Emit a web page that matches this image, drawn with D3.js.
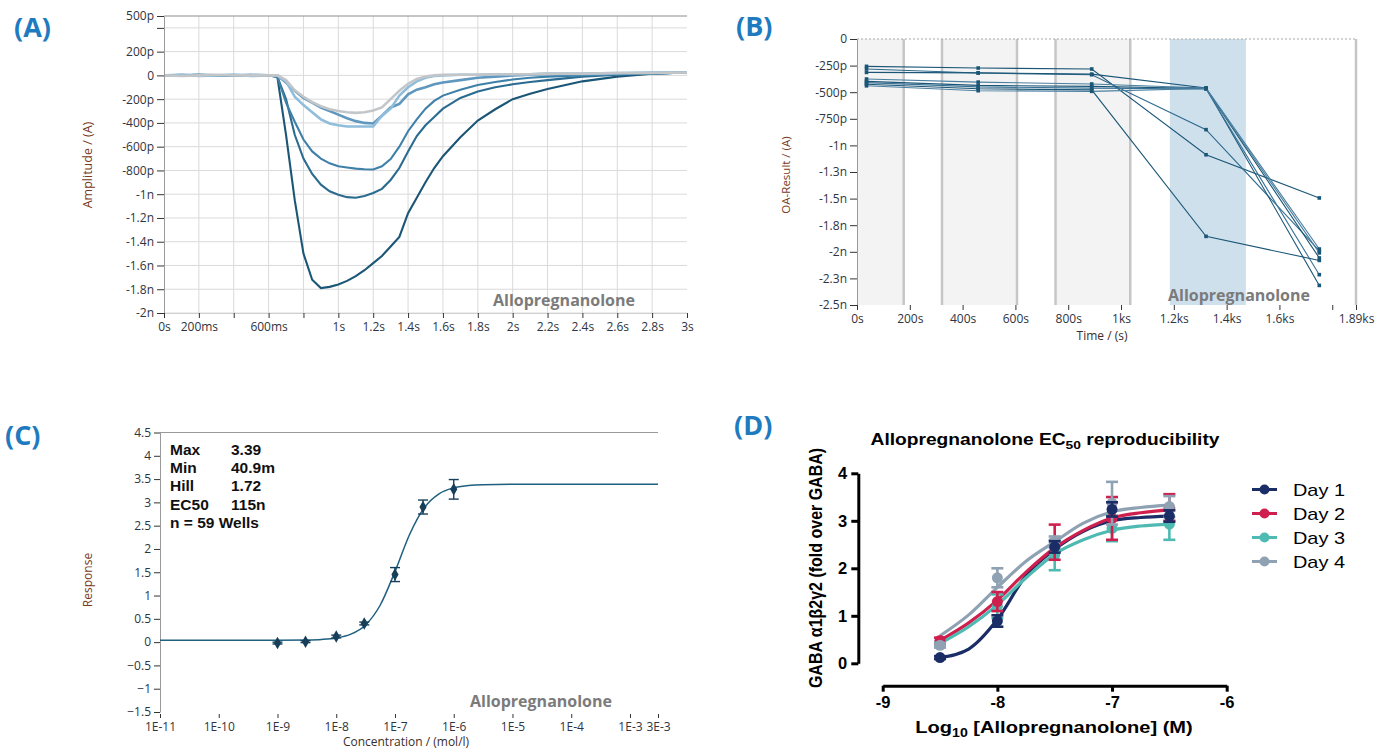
<!DOCTYPE html>
<html>
<head>
<meta charset="utf-8">
<script src="https://cdn.jsdelivr.net/npm/d3@7"></script>
<style>
body { margin: 0; background: #fff; }
svg { display: block; }
</style>
</head>
<body>
<svg id="fig" width="1385" height="750"></svg>
<script>

// ---------- (A) current traces ----------
var tA = [0, 0.1, 0.2, 0.3, 0.4, 0.5, 0.6, 0.65, 0.7, 0.75, 0.8, 0.85, 0.9, 0.95, 1.0, 1.05, 1.1, 1.15, 1.2, 1.25, 1.3, 1.35, 1.4, 1.45, 1.5, 1.55, 1.6, 1.7, 1.8, 1.9, 2.0, 2.1, 2.2, 2.4, 2.6, 2.8, 3.0];
var traceGray  = [0, -5, 0, 5, 0, 0, 0, 0, -40, -125, -180, -225, -260, -285, -300, -310, -315, -310, -295, -270, -200, -130, -70, -30, -10, 0, 5, 5, 5, 10, 10, 10, 15, 15, 20, 20, 25];
var traceLight = [0, 5, -5, 0, 5, -5, 0, 0, -50, -180, -250, -310, -370, -405, -420, -430, -430, -430, -430, -340, -280, -170, -100, -50, -20, -5, 0, 5, 5, 10, 10, 10, 15, 15, 20, 25, 25];
var traceMid2  = [0, 0, 5, 0, 0, 5, 0, 0, -60, -130, -190, -230, -270, -300, -330, -360, -385, -400, -405, -340, -270, -240, -160, -120, -100, -75, -60, -40, -20, -10, 0, 5, 10, 10, 15, 20, 25];
var traceMid1  = [0, 0, -5, 0, 5, 0, 0, -10, -230, -390, -540, -640, -700, -740, -765, -775, -785, -790, -792, -765, -705, -600, -470, -370, -280, -215, -170, -120, -80, -55, -35, -20, -10, 0, 10, 15, 25];
var traceDark2 = [0, 5, 0, -5, 0, 0, 0, -10, -200, -500, -700, -830, -920, -975, -1005, -1025, -1030, -1015, -990, -955, -880, -780, -640, -510, -420, -350, -280, -190, -135, -100, -75, -55, -40, -10, 5, 15, 25];
var traceDark1 = [0, 0, 5, 0, -5, 0, 0, -10, -500, -1050, -1500, -1720, -1790, -1780, -1760, -1730, -1690, -1640, -1580, -1520, -1440, -1360, -1160, -1030, -900, -780, -680, -520, -380, -285, -200, -155, -115, -50, -10, 15, 25];
var tracesA = [traceDark1, traceDark2, traceMid1, traceMid2, traceLight, traceGray];
var colorsA = ["#1b5676", "#2b6b90", "#3f80a8", "#5f97be", "#8fbddb", "#c3c6c9"];
var yTicksA = [500, 400, 200, 0, -200, -400, -600, -800, -1000, -1200, -1400, -1600, -1800, -2000];
var yLabelsA = ["500p", "", "200p", "0", "-200p", "-400p", "-600p", "-800p", "-1n", "-1.2n", "-1.4n", "-1.6n", "-1.8n", "-2n"];
var xTicksA = [0, 0.2, 0.4, 0.6, 0.8, 1.0, 1.2, 1.4, 1.6, 1.8, 2.0, 2.2, 2.4, 2.6, 2.8, 3.0];
var xLabelsA = ["0s", "200ms", "", "600ms", "", "1s", "1.2s", "1.4s", "1.6s", "1.8s", "2s", "2.2s", "2.4s", "2.6s", "2.8s", "3s"];

// ---------- (B) OA-result per well ----------
var tB = [36, 459, 889, 1322, 1751];
var well1 = [-257, -273, -282, -1088, -1494];
var well2 = [-282, -320, -336, -852, -1990];
var well3 = [-314, -318, -330, -461, -2316];
var well4 = [-376, -405, -423, -461, -1974];
var well5 = [-398, -436, -445, -465, -2058];
var well6 = [-410, -450, -462, -470, -2215];
var well7 = [-425, -467, -478, -1855, -2081];
var well8 = [-440, -486, -492, -465, -2010];
var wellsB = [well1, well2, well3, well4, well5, well6, well7, well8];
var colorsB = ["#1b5676", "#2d6a8e", "#1b5676", "#4a7fa0", "#1b5676", "#3a7398", "#1b5676", "#4a7fa0"];
var grayBandsB = [[0, 177], [322, 606], [752, 1035]];
var blueBandB = [1185, 1473];
var sepLinesB = [177, 322, 606, 752, 1035, 1890];
var yTicksB = [0, -250, -500, -750, -1000, -1250, -1500, -1750, -2000, -2250, -2500];
var yLabelsB = ["0", "-250p", "-500p", "-750p", "-1n", "-1.3n", "-1.5n", "-1.8n", "-2n", "-2.3n", "-2.5n"];
var xTicksB = [0, 200, 400, 600, 800, 1000, 1200, 1400, 1600, 1800, 1890];
var xLabelsB = ["0s", "200s", "400s", "600s", "800s", "1ks", "1.2ks", "1.4ks", "1.6ks", "", "1.89ks"];

// ---------- (C) concentration response ----------
var concC = [1e-9, 3e-9, 1e-8, 3e-8, 1e-7, 3e-7, 1e-6];
var respC = [-0.02, 0.01, 0.12, 0.4, 1.45, 2.9, 3.28];
var errC = [0.02, 0.02, 0.03, 0.03, 0.15, 0.15, 0.21];
var fitConcC = [1e-11, 1e-9, 3.16e-9, 5.62e-9, 1e-8, 1.78e-8, 3.16e-8, 5.62e-8, 1e-7, 1.78e-7, 3.16e-7, 5.62e-7, 1e-6, 1.78e-6, 3.16e-6, 1e-5, 3e-3];
var fitRespC = [0.041, 0.042, 0.048, 0.059, 0.09, 0.171, 0.369, 0.797, 1.514, 2.315, 2.888, 3.185, 3.311, 3.36, 3.379, 3.388, 3.39];
var statLabels = ["Max", "Min", "Hill", "EC50"];
var statValues = ["3.39", "40.9m", "1.72", "115n"];
var wellsNote = "n = 59 Wells";
var yTicksC = [4.5, 4, 3.5, 3, 2.5, 2, 1.5, 1, 0.5, 0, -0.5, -1, -1.5];
var xTicksC = [1e-11, 1e-10, 1e-9, 1e-8, 1e-7, 1e-6, 1e-5, 1e-4, 1e-3, 3e-3];
var xLabelsC = ["1E-11", "1E-10", "1E-9", "1E-8", "1E-7", "1E-6", "1E-5", "1E-4", "1E-3", "3E-3"];

// ---------- (D) EC50 reproducibility ----------
var logConcD = [-8.5, -8, -7.5, -7, -6.5];
var day1 = [0.12, 0.89, 2.45, 3.24, 3.1];
var day1Err = [0.03, 0.12, 0.12, 0.15, 0.12];
var day2 = [0.48, 1.3, 2.55, 3.05, 3.28];
var day2Err = [0.06, 0.2, 0.37, 0.45, 0.28];
var day3 = [0.4, 1.2, 2.28, 2.84, 2.93];
var day3Err = [0.05, 0.25, 0.32, 0.27, 0.33];
var day4 = [0.38, 1.8, 2.55, 3.37, 3.3];
var day4Err = [0.05, 0.2, 0.12, 0.45, 0.22];
var fitLogD = [-8.5, -8.25, -8, -7.75, -7.5, -7.25, -7, -6.75, -6.5];
var fit1 = [0.12, 0.3, 0.92, 1.85, 2.4, 2.78, 3.0, 3.07, 3.1];
var fit2 = [0.48, 0.85, 1.33, 1.92, 2.43, 2.8, 3.06, 3.17, 3.23];
var fit3 = [0.42, 0.77, 1.23, 1.8, 2.3, 2.6, 2.8, 2.89, 2.93];
var fit4 = [0.58, 1.02, 1.6, 2.15, 2.56, 2.95, 3.19, 3.28, 3.33];
var dayNames = ["Day 1", "Day 2", "Day 3", "Day 4"];
var dayColors = ["#1b2d66", "#cf1f4e", "#4fbab1", "#8fa2b4"];

var svg = d3.select("#fig");
var font = '"Open Sans", sans-serif';
var arial = '"Liberation Sans", Arial, sans-serif';
var tickCol = "#2f3440";
var titleCol = "#7a3a22";
var panelCol = "#1f7bbf";

function styleAxis(g) {
	g.selectAll("text").style("font-family", font).style("font-size", "12px").style("fill", tickCol);
	g.selectAll(".tick line").style("stroke", "#333");
	g.select(".domain").style("stroke", "#9a9a9a");
}

function panelLabel(txt, x, y) {
	svg.append("text").attr("x", x).attr("y", y).text(txt)
		.style("font-family", font).style("font-weight", "bold")
		.style("font-size", "27px").style("fill", panelCol);
}

function drugLabel(g, x, y) {
	g.append("text").attr("x", x).attr("y", y).attr("text-anchor", "middle").text("Allopregnanolone")
		.style("font-family", font).style("font-weight", "bold")
		.style("font-size", "16px").style("fill", "#7b7b7b");
}

// ================= panel A =================
var xA = d3.scaleLinear().domain([0, 3]).range([164, 687]);
var yA = d3.scaleLinear().domain([-2000, 500]).range([313, 16]);
var gA = svg.append("g");

gA.selectAll(".hgrid").data(yTicksA.slice(1)).enter().append("line")
	.attr("x1", 164).attr("x2", 687)
	.attr("y1", function(d) { return yA(d); }).attr("y2", function(d) { return yA(d); })
	.style("stroke", "#dadada");
gA.selectAll(".vgrid").data(xTicksA.slice(1, -1)).enter().append("line")
	.attr("x1", function(d) { return xA(d); }).attr("x2", function(d) { return xA(d); })
	.attr("y1", yA(500)).attr("y2", yA(-2000))
	.style("stroke", "#dadada");
gA.append("line").attr("x1", 164).attr("x2", 687).attr("y1", yA(500)).attr("y2", yA(500))
	.style("stroke", "#8c8c8c");

var lineA = d3.line()
	.x(function(d, i) { return xA(tA[i]); })
	.y(function(d) { return yA(d); });

tracesA.forEach(function(tr, k) {
	gA.append("path").attr("d", lineA(tr))
		.style("fill", "none").style("stroke", colorsA[k])
		.style("stroke-width", k > 2 ? 2.6 : 2.1);
});

var axAy = gA.append("g").attr("transform", "translate(164,0)")
	.call(d3.axisLeft(yA).tickValues(yTicksA).tickFormat(function(d, i) { return yLabelsA[i]; })
		.tickSize(7).tickSizeOuter(0).tickPadding(3));
styleAxis(axAy);
var axAx = gA.append("g").attr("transform", "translate(0,313)")
	.call(d3.axisBottom(xA).tickValues(xTicksA).tickFormat(function(d, i) { return xLabelsA[i]; })
		.tickSize(5).tickSizeOuter(0).tickPadding(4));
styleAxis(axAx);
axAx.select(".domain").style("stroke", "#d0d0d0");

gA.append("text").attr("transform", "translate(92,165) rotate(-90)").attr("text-anchor", "middle")
	.text("Amplitude / (A)").style("font-family", font).style("font-size", "12.5px").style("fill", titleCol);
drugLabel(gA, 564, 306);
panelLabel("(A)", 14, 37);

// ================= panel B =================
var xB = d3.scaleLinear().domain([0, 1890]).range([857, 1356]);
var yB = d3.scaleLinear().domain([-2500, 0]).range([305, 39]);
var gB = svg.append("g");

gB.selectAll(".band").data(grayBandsB).enter().append("rect")
	.attr("x", function(d) { return xB(d[0]); }).attr("width", function(d) { return xB(d[1]) - xB(d[0]); })
	.attr("y", yB(0)).attr("height", yB(-2500) - yB(0))
	.style("fill", "#f3f3f3");
gB.append("rect").attr("x", xB(blueBandB[0])).attr("width", xB(blueBandB[1]) - xB(blueBandB[0]))
	.attr("y", yB(0)).attr("height", yB(-2500) - yB(0)).style("fill", "#cfe0ed");
gB.selectAll(".sep").data(sepLinesB).enter().append("line")
	.attr("x1", function(d) { return xB(d); }).attr("x2", function(d) { return xB(d); })
	.attr("y1", yB(0)).attr("y2", yB(-2500))
	.style("stroke", "#c6c6c6").style("stroke-width", 2.5);
gB.append("line").attr("x1", xB(0)).attr("x2", xB(1890)).attr("y1", yB(0)).attr("y2", yB(0))
	.style("stroke", "#a8a8a8").style("stroke-dasharray", "2,2");

drugLabel(gB, 1239, 301);

var lineB = d3.line()
	.x(function(d, i) { return xB(tB[i]); })
	.y(function(d) { return yB(d); });
wellsB.forEach(function(w, k) {
	gB.append("path").attr("d", lineB(w))
		.style("fill", "none").style("stroke", colorsB[k]).style("stroke-width", 1.1);
	gB.selectAll(".pt" + k).data(w).enter().append("rect")
		.attr("x", function(d, i) { return xB(tB[i]) - 1.8; })
		.attr("y", function(d) { return yB(d) - 1.8; })
		.attr("width", 3.6).attr("height", 3.6)
		.style("fill", "#1b5676");
});

var axBy = gB.append("g").attr("transform", "translate(857,0)")
	.call(d3.axisLeft(yB).tickValues(yTicksB).tickFormat(function(d, i) { return yLabelsB[i]; })
		.tickSize(7).tickSizeOuter(0).tickPadding(3));
styleAxis(axBy);
var axBx = gB.append("g").attr("transform", "translate(0,305)")
	.call(d3.axisBottom(xB).tickValues(xTicksB).tickFormat(function(d, i) { return xLabelsB[i]; })
		.tickSize(5).tickSizeOuter(0).tickPadding(4));
styleAxis(axBx);
axBx.select(".domain").remove();

gB.append("text").attr("transform", "translate(790,175) rotate(-90)").attr("text-anchor", "middle")
	.text("OA-Result / (A)").style("font-family", font).style("font-size", "11.5px").style("fill", titleCol);
gB.append("text").attr("x", 1102).attr("y", 340).attr("text-anchor", "middle")
	.text("Time / (s)").style("font-family", font).style("font-size", "12px").style("fill", "#3a2e2a");
panelLabel("(B)", 736, 36);

// ================= panel C =================
var xC = d3.scaleLog().domain([1e-11, 3e-3]).range([160, 658]);
var yC = d3.scaleLinear().domain([-1.5, 4.5]).range([712, 432.5]);
var gC = svg.append("g");

gC.append("line").attr("x1", 160).attr("x2", 658).attr("y1", yC(4.5)).attr("y2", yC(4.5))
	.style("stroke", "#9a9a9a");

var axCy = gC.append("g").attr("transform", "translate(160,0)")
	.call(d3.axisLeft(yC).tickValues(yTicksC).tickFormat(d3.format("")).tickSize(6).tickSizeOuter(0).tickPadding(3));
styleAxis(axCy);
var axCx = gC.append("g").attr("transform", "translate(0,714)")
	.call(d3.axisBottom(xC).tickValues(xTicksC).tickFormat(function(d, i) { return xLabelsC[i]; })
		.tickSize(4).tickSizeOuter(0).tickPadding(4));
styleAxis(axCx);
axCx.select(".domain").remove();

var lineC = d3.line().curve(d3.curveMonotoneX)
	.x(function(d, i) { return xC(fitConcC[i]); })
	.y(function(d) { return yC(d); });
gC.append("path").attr("d", lineC(fitRespC))
	.style("fill", "none").style("stroke", "#1f5f80").style("stroke-width", 1.5);

concC.forEach(function(c, i) {
	var cx = xC(c);
	var y0 = yC(respC[i] - errC[i]), y1 = yC(respC[i] + errC[i]);
	gC.append("line").attr("x1", cx).attr("x2", cx).attr("y1", y0).attr("y2", y1)
		.style("stroke", "#173f5a").style("stroke-width", 1.4);
	[y0, y1].forEach(function(yy) {
		gC.append("line").attr("x1", cx - 5).attr("x2", cx + 5).attr("y1", yy).attr("y2", yy)
			.style("stroke", "#173f5a").style("stroke-width", 1.4);
	});
});
gC.selectAll(".ptc").data(respC).enter().append("path")
	.attr("d", d3.symbol().type(d3.symbolDiamond).size(45))
	.attr("transform", function(d, i) { return "translate(" + xC(concC[i]) + "," + yC(d) + ")"; })
	.style("fill", "#173f5a");

statLabels.forEach(function(s, i) {
	gC.append("text").attr("x", 170).attr("y", 455 + i * 18.2).text(s)
		.style("font-family", arial).style("font-weight", "bold").style("font-size", "15.5px").style("fill", "#111");
	gC.append("text").attr("x", 231).attr("y", 455 + i * 18.2).text(statValues[i])
		.style("font-family", arial).style("font-weight", "bold").style("font-size", "15.5px").style("fill", "#111");
});
gC.append("text").attr("x", 170).attr("y", 455 + 4 * 18.2).text(wellsNote)
	.style("font-family", arial).style("font-weight", "bold").style("font-size", "15.5px").style("fill", "#111");

gC.append("text").attr("transform", "translate(92,580) rotate(-90)").attr("text-anchor", "middle")
	.text("Response").style("font-family", font).style("font-size", "12px").style("fill", titleCol);
gC.append("text").attr("x", 406).attr("y", 746).attr("text-anchor", "middle")
	.text("Concentration / (mol/l)").style("font-family", font).style("font-size", "12px").style("fill", "#3a2e2a");
drugLabel(gC, 541, 707);
panelLabel("(C)", 5, 445);

// ================= panel D =================
var xD = d3.scaleLinear().domain([-9, -6]).range([882.7, 1226.7]);
var yD = d3.scaleLinear().domain([0, 4]).range([663.3, 473.3]);
var gD = svg.append("g");
var dayData = [day1, day2, day3, day4];
var dayErr = [day1Err, day2Err, day3Err, day4Err];
var dayFits = [fit1, fit2, fit3, fit4];

var axDy = gD.append("g").attr("transform", "translate(858.3,0)")
	.call(d3.axisLeft(yD).tickValues([0, 1, 2, 3, 4]).tickFormat(d3.format("d")).tickSize(7).tickSizeOuter(0).tickPadding(4));
var axDx = gD.append("g").attr("transform", "translate(0,685.7)")
	.call(d3.axisBottom(xD).tickValues([-9, -8, -7, -6]).tickFormat(d3.format("d")).tickSize(6).tickSizeOuter(0).tickPadding(5));
[axDy, axDx].forEach(function(ax) {
	ax.selectAll("path,line").style("stroke", "#000").style("stroke-width", 3);
	ax.selectAll("text").style("font-family", arial).style("font-weight", "bold")
		.style("font-size", "16.5px").style("fill", "#000");
});
axDx.selectAll(".tick text").text(function(d) { return "-" + Math.abs(d); });

var lineD = d3.line().curve(d3.curveMonotoneX)
	.x(function(d, i) { return xD(fitLogD[i]); })
	.y(function(d) { return yD(d); });
dayFits.forEach(function(f, k) {
	gD.append("path").attr("d", lineD(f))
		.style("fill", "none").style("stroke", dayColors[k]).style("stroke-width", 3.2);
});

[2, 1, 3, 0].forEach(function(k) {
	var vals = dayData[k], errs = dayErr[k];
	vals.forEach(function(v, i) {
		var cx = xD(logConcD[i]);
		var y0 = yD(v - errs[i]), y1 = yD(v + errs[i]);
		gD.append("line").attr("x1", cx).attr("x2", cx).attr("y1", y0).attr("y2", y1)
			.style("stroke", dayColors[k]).style("stroke-width", 2.6);
		[y0, y1].forEach(function(yy) {
			gD.append("line").attr("x1", cx - 6).attr("x2", cx + 6).attr("y1", yy).attr("y2", yy)
				.style("stroke", dayColors[k]).style("stroke-width", 2.6);
		});
	});
	gD.selectAll(".ptd" + k).data(vals).enter().append("circle")
		.attr("cx", function(d, i) { return xD(logConcD[i]); })
		.attr("cy", function(d) { return yD(d); })
		.attr("r", 5.5).style("fill", dayColors[k]);
});

// title with subscript
var title = gD.append("text").attr("transform", "translate(1045,445) scale(1.2,1)").attr("text-anchor", "middle")
	.style("font-family", arial).style("font-weight", "bold").style("font-size", "16px").style("fill", "#000");
title.append("tspan").text("Allopregnanolone EC");
title.append("tspan").attr("dy", 4).style("font-size", "11.5px").text("50");
title.append("tspan").attr("dy", -4).text(" reproducibility");

var xlab = gD.append("text").attr("transform", "translate(1054,733) scale(1.18,1)").attr("text-anchor", "middle")
	.style("font-family", arial).style("font-weight", "bold").style("font-size", "17px").style("fill", "#000");
xlab.append("tspan").text("Log");
xlab.append("tspan").attr("dy", 4).style("font-size", "12px").text("10");
xlab.append("tspan").attr("dy", -4).text(" [Allopregnanolone] (M)");

gD.append("text").attr("transform", "translate(822,568) scale(1.18,1) rotate(-90)").attr("text-anchor", "middle")
	.text("GABA \u03b11\u03b22\u03b32 (fold over GABA)")
	.style("font-family", arial).style("font-weight", "bold").style("font-size", "16px").style("fill", "#000");

dayNames.forEach(function(name, k) {
	var yy = 489.5 + k * 24;
	gD.append("line").attr("x1", 1252).attr("x2", 1277).attr("y1", yy).attr("y2", yy)
		.style("stroke", dayColors[k]).style("stroke-width", 3);
	gD.append("circle").attr("cx", 1264.5).attr("cy", yy).attr("r", 5).style("fill", dayColors[k]);
	gD.append("text").attr("transform", "translate(1293," + (yy + 6) + ") scale(1.17,1)").text(name)
		.style("font-family", arial).style("font-size", "17px").style("fill", "#000");
});

panelLabel("(D)", 734, 435);

</script>
</body>
</html>
